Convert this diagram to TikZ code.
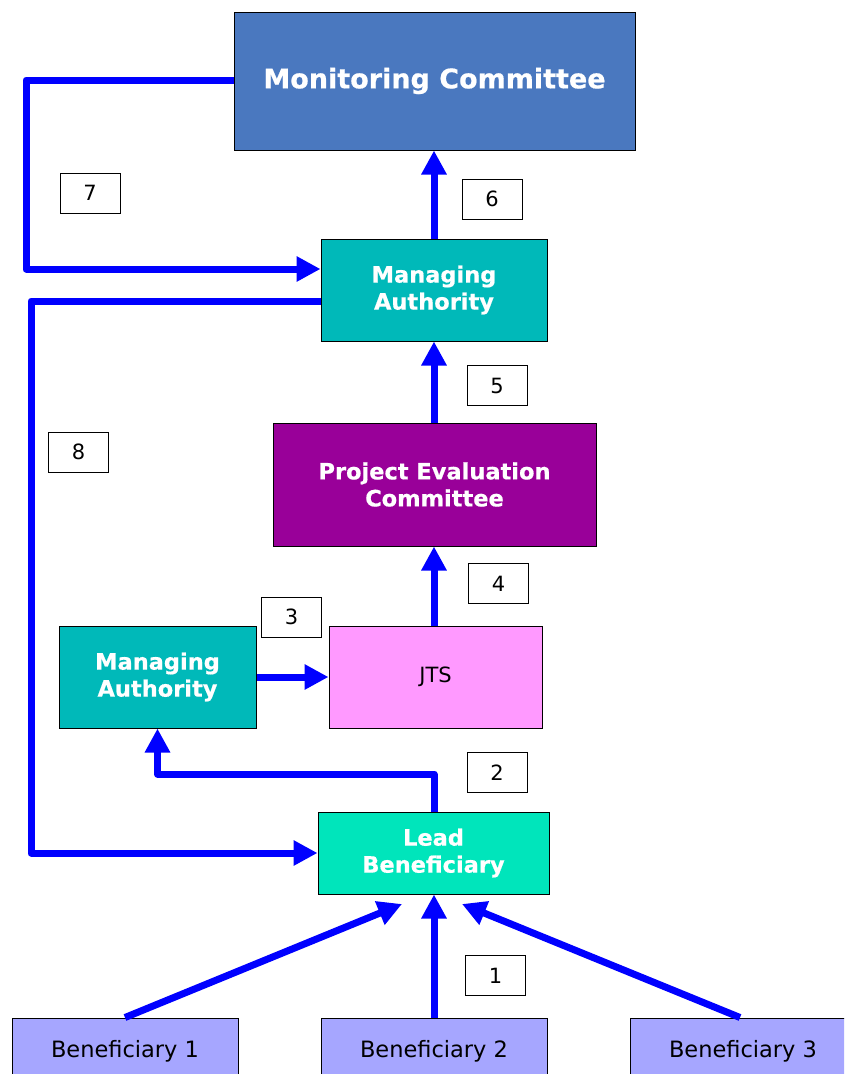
\documentclass[tikz,border=0pt]{standalone}
\usepackage{fontspec}
\setmainfont{DejaVu Sans}[BoldFeatures={FakeBold=0.6}]
\usetikzlibrary{arrows.meta}
\definecolor{mccol}{HTML}{4A78BF}
\definecolor{macol}{HTML}{00B9B9}
\definecolor{peccol}{HTML}{990099}
\definecolor{jtscol}{HTML}{FF99FF}
\definecolor{leadcol}{HTML}{00E5BB}
\definecolor{bencol}{HTML}{A6A6FF}
\definecolor{arrcol}{HTML}{0000FF}
\tikzset{
  box/.style={draw=black, line width=1pt, inner sep=0pt, align=center},
  wbox/.style={box, text=white, font=\bfseries\fontsize{22.5}{27}\selectfont},
  numbox/.style={box, fill=white, minimum width=60pt, minimum height=40pt, font=\fontsize{21}{24}\selectfont},
  benbox/.style={box, fill=bencol, minimum width=226pt, minimum height=80pt, font=\fontsize{22.5}{26}\selectfont},
  arr/.style={draw=arrcol, line width=7pt, line join=round, -{Triangle[length=24pt,width=24pt]}}
}
\begin{document}
\begin{tikzpicture}[x=1pt,y=-1pt]
\useasboundingbox (0,0) rectangle (844,1074);
\clip (0,0) rectangle (844,1074);
% nodes
\node[wbox, fill=mccol, minimum width=401pt, minimum height=138pt, font=\bfseries\fontsize{27}{30}\selectfont] (mc) at (434.5,81) {Monitoring Committee};
\node[wbox, fill=macol, minimum width=226pt, minimum height=102pt] (ma) at (434,290) {Managing\\Authority};
\node[wbox, fill=peccol, minimum width=323pt, minimum height=123pt] (pec) at (434.5,484.5) {Project Evaluation\\Committee};
\node[wbox, fill=macol, minimum width=197pt, minimum height=102pt] (ma2) at (157.5,677) {Managing\\Authority};
\node[box, fill=jtscol, minimum width=213pt, minimum height=102pt, font=\fontsize{21}{24}\selectfont] (jts) at (435.5,677) {JTS};
\node[wbox, fill=leadcol, minimum width=231pt, minimum height=82pt] (lead) at (433.5,853) {Lead\\Beneficiary};
\node[benbox] (b1) at (125,1058) {\raisebox{18pt}{Beneficiary 1}};
\node[benbox] (b2) at (434,1058) {\raisebox{18pt}{Beneficiary 2}};
\node[benbox] (b3) at (743,1058) {\raisebox{18pt}{Beneficiary 3}};
% number boxes
\node[numbox] (n7) at (90,193) {7};
\node[numbox] (n6) at (492,199) {6};
\node[numbox] (n5) at (497,385.5) {5};
\node[numbox] (n8) at (78.5,452) {8};
\node[numbox] (n4) at (498.5,583.5) {4};
\node[numbox] (n3) at (291.5,617) {3};
\node[numbox] (n2) at (497,772.5) {2};
\node[numbox] (n1) at (495.5,975.5) {1};
% helper coordinates
\coordinate (c7a) at (26,80);
\coordinate (c7b) at (26,269);
\coordinate (c8a) at (31,301);
\coordinate (c8b) at (31,853);
\coordinate (c2) at (434,774);
\coordinate (b1end) at (402,904);
\coordinate (b3end) at (462,904);
% connectors
\draw[arr] (mc.west |- c7a) -- (c7a) -- (c7b) -- (ma.west |- c7b);
\draw[arr] (ma.north) -- (ma.north |- mc.south);
\draw[arr] (ma.west |- c8a) -- (c8a) -- (c8b) -- (lead.west |- c8b);
\draw[arr] (pec.north -| ma.north) -- (ma.south);
\draw[arr] (jts.north -| ma.north) -- (pec.south -| ma.north);
\draw[arr] (ma2.east) -- (jts.west);
\draw[arr] (lead.north -| c2) -- (c2) -| (ma2.south);
\draw[arr] (b2.north) -- (b2.north |- lead.south);
\draw[arr] (b1.north) -- (b1end);
\draw[arr] (b3.north -| 740,0) -- (b3end);
\end{tikzpicture}
\end{document}
